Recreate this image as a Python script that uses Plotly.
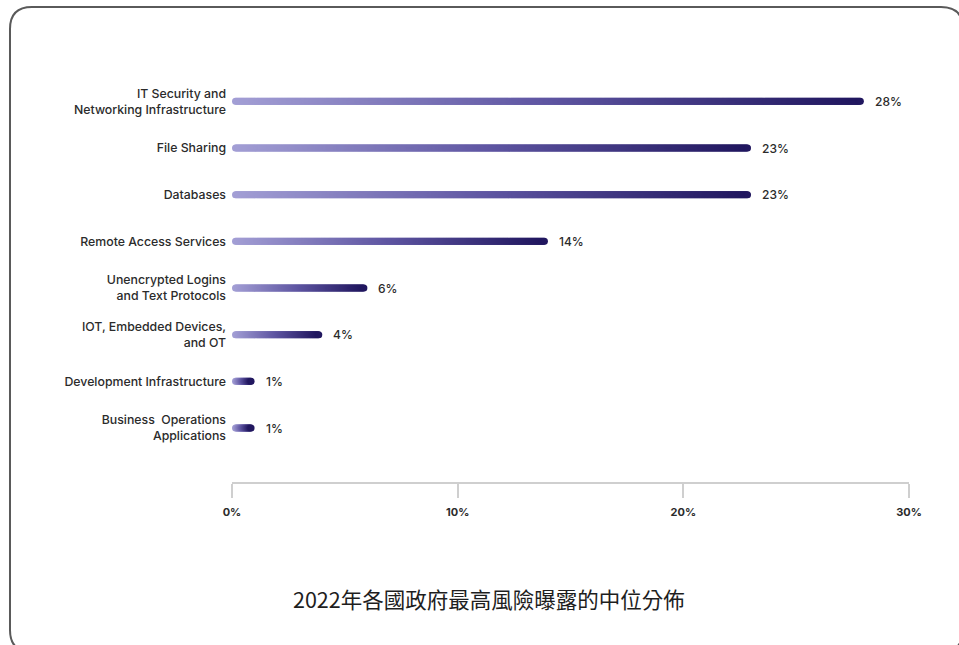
import numpy as np
import plotly.graph_objects as go

# Median share of highest-risk exposures by category (percent)
categories = [
    "IT Security and<br>Networking Infrastructure",
    "File Sharing",
    "Databases",
    "Remote Access Services",
    "Unencrypted Logins<br>and Text Protocols",
    "IOT, Embedded Devices,<br>and OT",
    "Development Infrastructure",
    "Business  Operations<br>Applications",
]
values = [28, 23, 23, 14, 6, 4, 1, 1]
x_ticks = [0, 10, 20, 30]
x_tick_labels = ["0%", "10%", "20%", "30%"]
title_text = "2022年各國政府最高風險曝露的中位分佈"

W, H = 959, 645
M_L, M_R, M_T, M_B = 232, 50, 78, 163
plot_w = W - M_L - M_R
plot_h = H - M_T - M_B
x_max = 30
px_per_unit = plot_w / x_max
bar_px = 7
r_units = (bar_px / 2) / px_per_unit

grad = [[0.0, "#a39fd5"], [0.5, "#5f56a2"], [1.0, "#21175f"]]

fig = go.Figure()

# Each bar is a dense run of round markers so it gets rounded ends and a
# left-to-right colour gradient along its own length.
for i, v in enumerate(values):
    n = max(int(v * px_per_unit), 4)
    xs = np.linspace(r_units, v - r_units, n)
    t = np.linspace(0, 1, n)
    fig.add_trace(go.Scatter(
        x=xs, y=[i] * n, mode="markers",
        marker=dict(size=bar_px, color=t, colorscale=grad, cmin=0, cmax=1,
                    line=dict(width=0), symbol="circle"),
        hoverinfo="skip", showlegend=False,
    ))
    fig.add_annotation(
        x=v, y=i, xref="x", yref="y", text=f"{v}%", showarrow=False,
        xanchor="left", xshift=9,
        font=dict(family="Inter", size=12, color="#2b2b2b", weight=500),
    )

y_bottom = 7 + (482 - 428) / 46.71

fig.update_xaxes(
    range=[0, x_max], tickvals=x_ticks, ticktext=x_tick_labels,
    showgrid=False, zeroline=False, showline=True, linecolor="#cfcfcf",
    linewidth=1.5, ticks="outside", ticklen=14, tickcolor="#cfcfcf",
    tickwidth=1.5, ticklabelstandoff=5,
    tickfont=dict(family="Inter", size=11, color="#2b2b2b", weight=700),
)
fig.update_yaxes(
    range=[y_bottom, -0.5], tickvals=list(range(len(categories))),
    ticktext=categories, showgrid=False, zeroline=False, showline=False,
    ticks="", ticklabelstandoff=5,
    tickfont=dict(family="Inter", size=12.3, color="#2b2b2b", weight=500),
)


def px_to_paper(px, py):
    return (px - M_L) / plot_w, (H - M_B - py) / plot_h


# Rounded outer frame
x0, y0, x1, y1, rad = 10, 7, 963, 652, 22
pts = {
    "a": px_to_paper(x0 + rad, y0), "b": px_to_paper(x1 - rad, y0),
    "c": px_to_paper(x1, y0), "d": px_to_paper(x1, y0 + rad),
    "e": px_to_paper(x1, y1 - rad), "f": px_to_paper(x1, y1),
    "g": px_to_paper(x1 - rad, y1), "h": px_to_paper(x0 + rad, y1),
    "i": px_to_paper(x0, y1), "j": px_to_paper(x0, y1 - rad),
    "k": px_to_paper(x0, y0 + rad), "l": px_to_paper(x0, y0),
}
fmt = lambda p: f"{p[0]:.5f},{p[1]:.5f}"
path = (f"M {fmt(pts['a'])} L {fmt(pts['b'])} Q {fmt(pts['c'])} {fmt(pts['d'])} "
        f"L {fmt(pts['e'])} Q {fmt(pts['f'])} {fmt(pts['g'])} "
        f"L {fmt(pts['h'])} Q {fmt(pts['i'])} {fmt(pts['j'])} "
        f"L {fmt(pts['k'])} Q {fmt(pts['l'])} {fmt(pts['a'])} Z")
fig.add_shape(type="path", path=path, xref="paper", yref="paper",
              line=dict(color="#5a5a5a", width=2), layer="above")

tx, ty = px_to_paper(489, 598)
fig.add_annotation(
    x=tx, y=ty, xref="paper", yref="paper", text=title_text, showarrow=False,
    xanchor="center", yanchor="middle",
    font=dict(family="Noto Sans CJK TC", size=21.5, color="#1e1e1e"),
)

fig.update_layout(
    width=W, height=H, margin=dict(l=M_L, r=M_R, t=M_T, b=M_B),
    paper_bgcolor="white", plot_bgcolor="white", showlegend=False,
)

fig.write_html("out.html")
